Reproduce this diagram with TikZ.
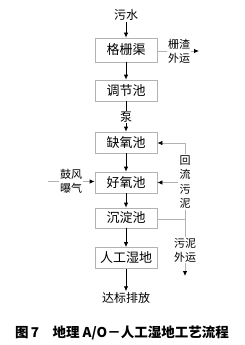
\documentclass[tikz,border=0pt]{standalone}
\usepackage{fontspec}
\newfontfamily\cjk{Noto Sans CJK SC}
\usetikzlibrary{arrows.meta}

\begin{document}
\begin{tikzpicture}[x=1pt, y=-1pt,
    every node/.style={font=\cjk\fontsize{12}{14}\selectfont, inner sep=1pt},
    pool/.style={draw=gray!60, fill=white, line width=0.8pt, minimum width=62pt, minimum height=21pt, font=\cjk\fontsize{13}{15}\selectfont},
    side/.style={font=\cjk\fontsize{11}{14}\selectfont, align=center, fill=white},
    flow/.style={-{Latex[length=5pt,width=4.5pt]}, line width=0.8pt},
    grayline/.style={draw=gray!60, line width=0.8pt},
    grayflow/.style={grayline, -{Latex[length=5pt,width=4.5pt,black]}}]

    \useasboundingbox (0,0) rectangle (244,345);

    % main line
    \node (sewage) at (126,15) {污水};
    \node[pool, minimum height=24pt] (grid) at (126,50) {格栅渠};
    \node[pool] (equal) at (126,90.5) {调节池};
    \node (pump) at (126,117) {泵};
    \node[pool] (anoxic) at (126,142.5) {缺氧池};
    \node[pool] (aerobic) at (126,182.5) {好氧池};
    \node[pool, minimum height=20pt] (settle) at (126,218) {沉淀池};
    \node[pool] (wetland) at (126,258) {人工湿地};
    \node (outlet) at (126,298) {达标排放};

    \draw[flow] (sewage) -- (grid);
    \draw[flow] (grid) -- (equal);
    \draw[line width=0.8pt] (equal) -- (pump);
    \draw[flow] (pump) -- (anoxic);
    \draw[flow] (anoxic) -- (aerobic);
    \draw[flow] (aerobic) -- (settle);
    \draw[flow] (settle) -- (wetland);
    \draw[flow] (wetland) -- (outlet);

    % screenings
    \node[side] (screen) at (179,51) {栅渣\\外运};
    \coordinate (screenend) at (199,51);
    \draw[grayline] (grid.east |- screen) -- (screen);
    \draw[grayflow] (screen) -- (screenend);

    % aeration
    \node[side] (blower) at (71,181.5) {鼓风\\曝气};
    \coordinate (blowerstart) at (48,181.5);
    \draw[grayline] (blowerstart) -- (blower);
    \draw[grayflow] (blower) -- (aerobic.west |- blower);

    % return sludge
    \node[side, font=\cjk\fontsize{11}{14.5}\selectfont] (recycle) at (185,182) {回\\流\\污\\泥};
    \coordinate (cornerlow) at (185,219);
    \coordinate (cornerup) at (185,143);
    \draw[grayline] (settle.east |- cornerlow) -- (cornerlow) -- (recycle);
    \draw[grayflow] (recycle) -- (cornerup) -- (anoxic.east |- cornerup);
    \draw[grayflow] (recycle.west |- aerobic.east) -- (aerobic.east);

    % waste sludge
    \node[side] (waste) at (185,250) {污泥\\外运};
    \coordinate (wasteend) at (185,276);
    \draw[grayline] (cornerlow) -- (waste);
    \draw[grayflow] (waste) -- (wasteend);

    % caption
    \node[font=\cjk\bfseries\fontsize{13.5}{15}\selectfont] (caption) at (122,333) {图\,7\quad 地理 A/O－人工湿地工艺流程};

\end{tikzpicture}
\end{document}
